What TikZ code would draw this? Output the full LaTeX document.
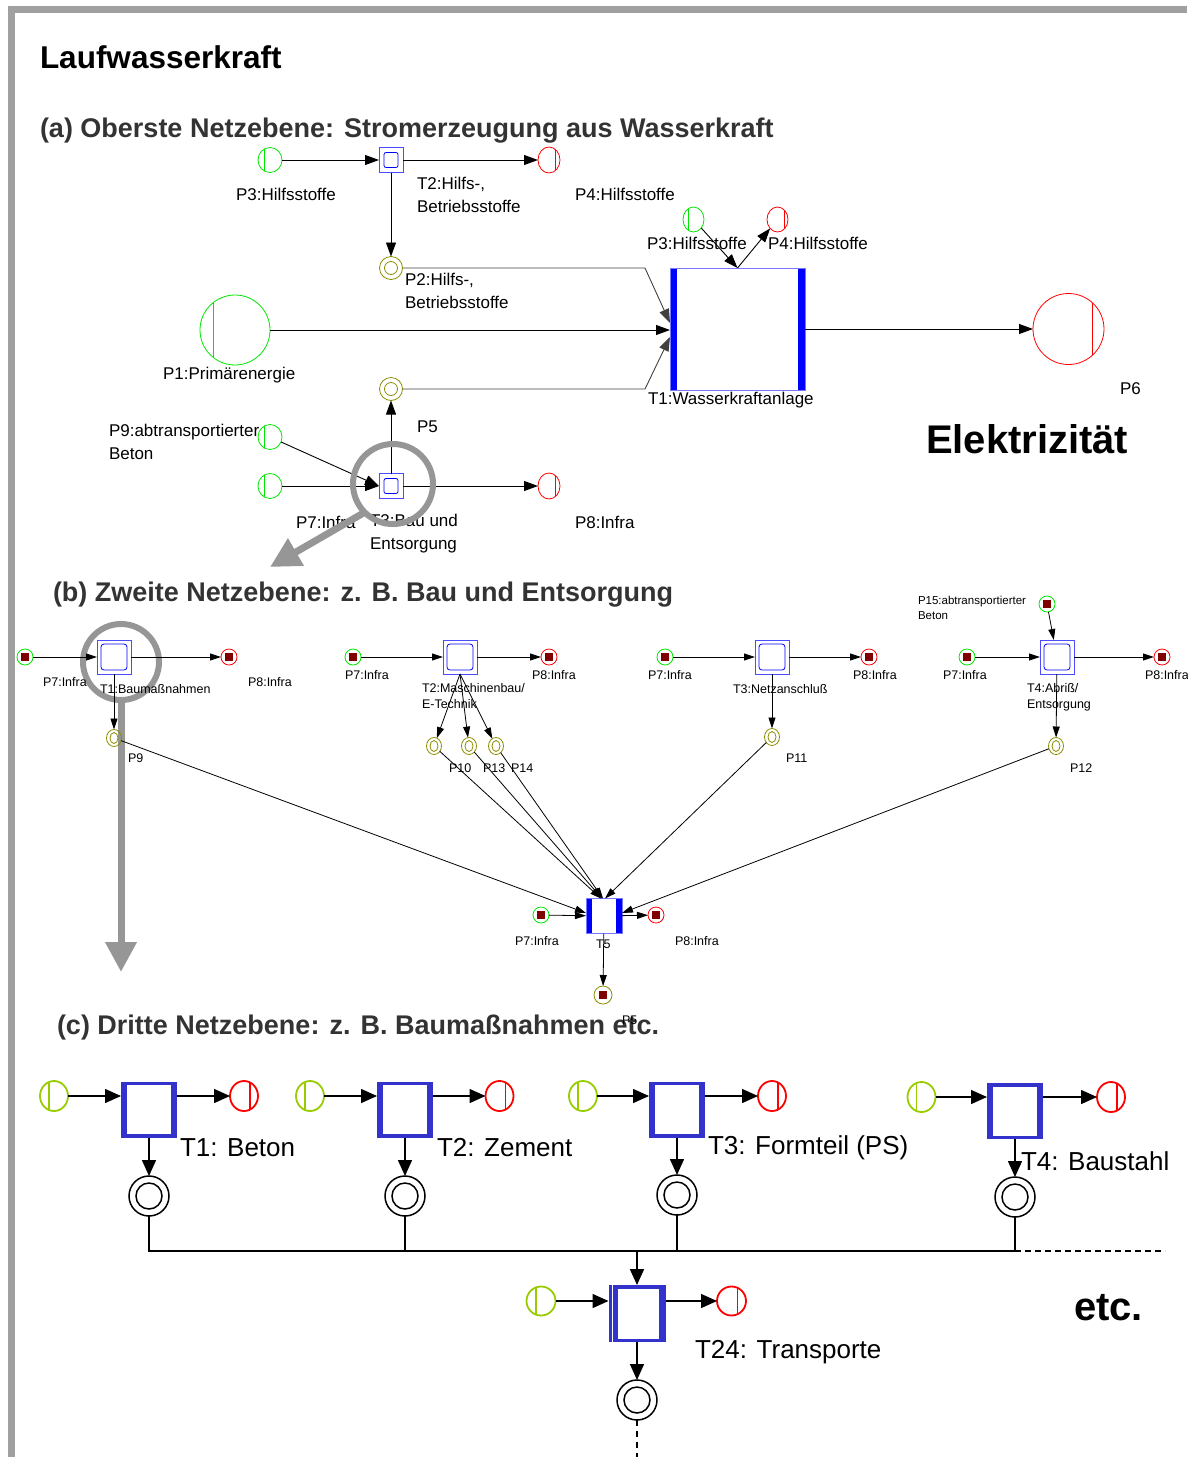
\documentclass[tikz,border=0pt]{standalone}
\usepackage{fontspec}
\setmainfont{Liberation Sans}
\usetikzlibrary{arrows.meta,shapes.geometric}
\definecolor{agreen}{RGB}{0,230,0}
\definecolor{ared}{RGB}{255,0,0}
\definecolor{tblue}{RGB}{0,0,255}
\definecolor{tbluelight}{RGB}{120,120,255}
\definecolor{olive}{RGB}{140,140,0}
\definecolor{dred}{RGB}{128,0,0}
\definecolor{cgreen}{RGB}{153,204,0}
\definecolor{cblue}{RGB}{51,51,204}
\definecolor{framegray}{RGB}{160,160,160}
\definecolor{maggray}{RGB}{150,150,150}
\definecolor{titlegray}{RGB}{51,51,51}
\begin{document}
\begin{tikzpicture}[x=1pt,y=-1pt,
  every node/.style={inner sep=0pt, outer sep=0pt, line width=0.8pt},
  lbl/.style={anchor=west, font=\fontsize{17}{23}\selectfont, align=left},
  slbl/.style={anchor=west, font=\fontsize{12.5}{16}\selectfont, align=left},
  clbl/.style={anchor=west, font=\fontsize{26}{30}\selectfont},
  heading/.style={anchor=west, text=titlegray, font=\bfseries\fontsize{27}{31}\selectfont},
  arc/.style={line width=0.9pt, -{Triangle[length=14pt,width=10pt]}},
  arcb/.style={line width=0.8pt, -{Triangle[length=11pt,width=7pt]}},
  arcc/.style={line width=1.5pt, -{Triangle[length=16pt,width=14pt]}},
  vbar/.style n args={3}{path picture={\draw[#1, line width=#3]
      ([xshift=#2]path picture bounding box.north) -- ([xshift=#2]path picture bounding box.south);}},
  srca/.style={ellipse, draw=agreen, minimum width=24, minimum height=25, vbar={agreen}{#1}{0.8pt}},
  srca/.default=-6pt,
  sinka/.style={ellipse, draw=ared, minimum width=22, minimum height=26, vbar={ared}{#1}{0.8pt}},
  sinka/.default=6pt,
  mida/.style={circle, draw=olive, minimum size=23,
    path picture={\draw[olive, line width=0.8pt] (path picture bounding box.center) circle (6.5pt);}},
  transa/.style={rectangle, draw=tblue!70, minimum width=24, minimum height=25,
    path picture={\draw[tblue, line width=0.8pt, rounded corners=2pt]
      ([shift={(5pt,-5pt)}]path picture bounding box.north west) rectangle
      ([shift={(-5pt,5pt)}]path picture bounding box.south east);}},
  bartrans/.style={rectangle, draw=tbluelight,
    path picture={\fill[tblue] (path picture bounding box.north west) rectangle
      ([xshift=#1]path picture bounding box.south west);
      \fill[tblue] (path picture bounding box.north east) rectangle
      ([xshift=-#1]path picture bounding box.south east);}},
  placeb/.style={circle, draw=#1, minimum size=16},
  tok/.style={path picture={\fill[dred] ([shift={(-4pt,-4pt)}]path picture bounding box.center)
      rectangle ([shift={(4pt,4pt)}]path picture bounding box.center);}},
  midb/.style={ellipse, draw=olive, minimum width=15, minimum height=17,
    path picture={\draw[olive, line width=0.8pt] (path picture bounding box.center) ellipse (4pt and 5.5pt);}},
  transb/.style={rectangle, draw=tblue!70, minimum size=34,
    path picture={\draw[tblue, line width=0.8pt, rounded corners=3pt]
      ([shift={(4pt,-4pt)}]path picture bounding box.north west) rectangle
      ([shift={(-4pt,4pt)}]path picture bounding box.south east);}},
  srcc/.style={ellipse, draw=cgreen, line width=1.8pt, minimum width=28, minimum height=30, vbar={cgreen}{-5pt}{1.8pt}},
  sinkc/.style={ellipse, draw=ared, line width=1.8pt, minimum width=28, minimum height=30, vbar={ared}{6pt}{1.8pt}},
  midc/.style={circle, draw=black, line width=1.5pt, minimum size=40,
    path picture={\draw[line width=1.5pt] (path picture bounding box.center) circle (13pt);}},
  transc/.style={rectangle, fill=cblue, minimum width=56, minimum height=56,
    path picture={\fill[white] ([shift={(6pt,-3.5pt)}]path picture bounding box.north west) rectangle
      ([shift={(-6pt,3.5pt)}]path picture bounding box.south east);}},
  tfused/.style={rectangle, fill=cblue, minimum width=57, minimum height=57,
    path picture={\fill[white] ([shift={(9pt,-3.5pt)}]path picture bounding box.north west) rectangle
      ([shift={(-7pt,3.5pt)}]path picture bounding box.south east);
      \draw[white, line width=1pt] ([xshift=4pt]path picture bounding box.north west) --
      ([xshift=4pt]path picture bounding box.south west);}},
  magring/.style={circle, draw=maggray, line width=6pt},
  magarrow/.style={draw=maggray, line width=7pt, -{Triangle[length=30pt,width=30pt]}},
  busline/.style={line width=1.5pt}
]
\useasboundingbox (0,0) rectangle (1187,1457);
% frame
\draw[framegray, line width=6.5pt] (11.5,1457) -- (11.5,9.5) -- (1187,9.5);

% headings
\node[anchor=west, font=\bfseries\fontsize{31.5}{35}\selectfont] (title) at (40,57) {Laufwasserkraft};
\node[heading] (heada) at (40,131) {(a) Oberste Netzebene: Stromerzeugung aus Wasserkraft};
\node[heading] (headb) at (53,595) {(b) Zweite Netzebene: z. B. Bau und Entsorgung};
\node[heading] (headc) at (57,1028) {(c) Dritte Netzebene: z. B. Baumaßnahmen etc.};

% magnifier of level (b), behind the net
\node[magring, minimum size=76] (magb) at (121,662) {};
\coordinate (magbtip) at (121,972);
\draw[magarrow] (magb.south) -- (magbtip);

% level (a)
\node[srca] (p3a) at (270,160) {};
\node[transa] (t2a) at (391,160) {};
\node[sinka] (p4a) at (549,160) {};
\node[mida] (p2a) at (391,268) {};
\node[srca=-22pt, circle, minimum size=70] (p1a) at (235,330) {};
\node[bartrans=7pt, minimum width=135, minimum height=122] (t1a) at (737.5,329) {};
\node[srca=-5pt, minimum width=21] (p3s) at (693.5,219.5) {};
\node[sinka=7pt, minimum width=21, minimum height=25] (p4s) at (777.5,219.5) {};
\node[sinka=24pt, circle, minimum size=71] (p6a) at (1068.5,329) {};
\node[mida] (p5a) at (391,389) {};
\node[transa] (t3a) at (391,486) {};
\node[srca] (p9a) at (270,437) {};
\node[srca] (p7a) at (270,486) {};
\node[sinka] (p8a) at (549,486) {};

\node[lbl] (lp3a) at (236,194) {P3:Hilfsstoffe};
\node[lbl] (lt2a) at (417,195) {T2:Hilfs-,\\Betriebsstoffe};
\node[lbl] (lp4a) at (575,194) {P4:Hilfsstoffe};
\node[lbl] (lp2a) at (405,291) {P2:Hilfs-,\\Betriebsstoffe};
\node[lbl] (lp3s) at (647,243) {P3:Hilfsstoffe};
\node[lbl] (lp4s) at (768,243) {P4:Hilfsstoffe};
\node[lbl] (lp1a) at (163,375) {P1:Primärenergie};
\node[lbl] (lt1a) at (648,400) {T1:Wasserkraftanlage};
\node[lbl] (lp6a) at (1120,389) {P6};
\node[anchor=west, font=\bfseries\fontsize{40}{44}\selectfont] (elek) at (926,439) {Elektrizität};
\node[lbl] (lp5a) at (417,427) {P5};
\node[lbl] (lp9a) at (109,442) {P9:abtransportierter\\Beton};
\node[lbl] (lp7a) at (296,522) {P7:Infra};
\node[lbl] (lt3a) at (370,534) {T3:Bau und\\Entsorgung};
\node[lbl] (lp8a) at (575,522) {P8:Infra};

\draw[arc] (p3a) -- (t2a);
\draw[arc] (t2a) -- (p4a);
\draw[arc] (t2a) -- (p2a);
\draw[arc, draw=black!75] (p2a.east) -- ([xshift=-25pt]p2a.east -| t1a.west) -- ([yshift=6pt]t1a.west);
\draw[arc] (p1a) -- (p1a -| t1a.west);
\draw[arc, draw=black!75] (p5a.east) -- ([xshift=-25pt]p5a.east -| t1a.west) -- ([yshift=-8pt]t1a.west);
\draw[arc] (p3s) -- (t1a.north);
\draw[arc] (t1a.north) -- (p4s);
\draw[arc] (t1a) -- (p6a);
\draw[arc] (t3a) -- (p5a);
\draw[arc] (p9a) -- (t3a.west);
\draw[arc] (p7a) -- (t3a);
\draw[arc] (t3a) -- (p8a);

% magnifier of level (a), over the net
\node[magring, minimum size=80] (maga) at (393,484) {};
\coordinate (magatip) at (270,567);
\draw[magarrow] (maga.225) -- (magatip);

% level (b)
\node[placeb=agreen, tok] (p7b1) at (25,657) {};
\node[transb] (t1b) at (114,657) {};
\node[placeb=ared, tok] (p8b1) at (229,657) {};
\node[midb] (p9b) at (114,738) {};
\node[placeb=agreen, tok] (p7b2) at (353,657) {};
\node[transb] (t2b) at (460,657) {};
\node[placeb=ared, tok] (p8b2) at (549,657) {};
\node[midb] (p10b) at (434,746) {};
\node[midb] (p13b) at (469,746) {};
\node[midb] (p14b) at (496,746) {};
\node[placeb=agreen, tok] (p7b3) at (665,657) {};
\node[transb] (t3b) at (772,657) {};
\node[placeb=ared, tok] (p8b3) at (869,657) {};
\node[midb] (p11b) at (772,737) {};
\node[placeb=agreen, tok] (p7b4) at (967,657) {};
\node[transb] (t4b) at (1057,657) {};
\node[placeb=ared, tok] (p8b4) at (1162,657) {};
\node[midb] (p12b) at (1056,746) {};
\node[placeb=agreen, tok] (p15b) at (1047,604) {};
\node[bartrans=6pt, minimum width=36, minimum height=35] (t5b) at (604,916) {};
\node[placeb=agreen, tok] (p7b5) at (541,915) {};
\node[placeb=ared, tok] (p8b5) at (656,915) {};
\node[placeb=olive, minimum size=18, tok] (p5b) at (603,995) {};

\node[slbl] (lp7b1) at (43,682) {P7:Infra};
\node[slbl] (lt1b) at (100,689) {T1:Baumaßnahmen};
\node[slbl] (lp8b1) at (248,682) {P8:Infra};
\node[slbl] (lp9b) at (128,758) {P9};
\node[slbl] (lp7b2) at (345,675) {P7:Infra};
\node[slbl] (lt2b) at (422,696) {T2:Maschinenbau/\\E-Technik};
\node[slbl] (lp8b2) at (532,675) {P8:Infra};
\node[slbl] (lp10b) at (449,768) {P10};
\node[slbl] (lp13b) at (483,768) {P13};
\node[slbl] (lp14b) at (511,768) {P14};
\node[slbl] (lp7b3) at (648,675) {P7:Infra};
\node[slbl] (lt3b) at (733,689) {T3:Netzanschluß};
\node[slbl] (lp8b3) at (853,675) {P8:Infra};
\node[slbl] (lp11b) at (786,758) {P11};
\node[slbl] (lp7b4) at (943,675) {P7:Infra};
\node[slbl] (lt4b) at (1027,697) {T4:Abriß/\\Entsorgung};
\node[slbl] (lp8b4) at (1145,675) {P8:Infra};
\node[slbl] (lp12b) at (1070,768) {P12};
\node[anchor=west, font=\fontsize{11.5}{15}\selectfont, align=left] (lp15b) at (918,608) {P15:abtransportierter\\Beton};
\node[slbl] (lp7b5) at (515,941) {P7:Infra};
\node[slbl] (lt5b) at (596,944) {T5};
\node[slbl] (lp8b5) at (675,941) {P8:Infra};
\node[slbl] (lp5b) at (622,1020) {P5};

\draw[arcb] (p7b1) -- (t1b);
\draw[arcb] (t1b) -- (p8b1);
\draw[arcb] (t1b) -- (p9b);
\draw[arcb] (p7b2) -- (t2b);
\draw[arcb] (t2b) -- (p8b2);
\draw[arcb] (t2b.south) -- (p10b);
\draw[arcb] (t2b.south) -- (p13b);
\draw[arcb] (t2b.south) -- (p14b);
\draw[arcb] (p7b3) -- (t3b);
\draw[arcb] (t3b) -- (p8b3);
\draw[arcb] (t3b) -- (p11b);
\draw[arcb] (p7b4) -- (t4b);
\draw[arcb] (t4b) -- (p8b4);
\draw[arcb] (t4b) -- (p12b);
\draw[arcb] (p15b) -- (t4b);
\draw[arcb] (p9b) -- ([yshift=3pt]t5b.west);
\draw[arcb] (p10b) -- ([xshift=-3pt]t5b.north);
\draw[arcb] (p13b) -- ([xshift=-2pt]t5b.north);
\draw[arcb] (p14b) -- ([xshift=-1pt]t5b.north);
\draw[arcb] (p11b) -- ([xshift=1pt]t5b.north);
\draw[arcb] (p12b) -- ([yshift=3pt]t5b.east);
\draw[arcb] (p7b5) -- (t5b);
\draw[arcb] (t5b) -- (p8b5);
\draw[arcb] (t5b) -- (p5b);

% level (c)
\node[srcc] (in1) at (54,1096) {};
\node[transc] (t1c) at (149,1109.5) {};
\node[sinkc] (out1) at (244,1096) {};
\node[midc] (d1) at (149,1196) {};
\node[srcc] (in2) at (310,1096) {};
\node[transc] (t2c) at (405,1109.5) {};
\node[sinkc] (out2) at (499.5,1096) {};
\node[midc] (d2) at (405,1196) {};
\node[srcc] (in3) at (583,1096) {};
\node[transc] (t3c) at (677,1109.5) {};
\node[sinkc] (out3) at (772,1096) {};
\node[midc] (d3) at (677,1195) {};
\node[srcc] (in4) at (921.5,1097) {};
\node[transc] (t4c) at (1015,1111) {};
\node[sinkc] (out4) at (1111,1097) {};
\node[midc] (d4) at (1015,1197) {};
\node[srcc, minimum width=29, minimum height=29] (in24) at (541,1301) {};
\node[tfused] (t24) at (637,1313.5) {};
\node[sinkc, minimum width=29, minimum height=29] (out24) at (731.5,1301) {};
\node[midc] (d24) at (637,1400) {};
\coordinate (bus) at (637,1251);
\coordinate (busend) at (1165,1251);
\coordinate (tailend) at (637,1457);

\node[clbl] (lt1c) at (180,1148) {T1: Beton};
\node[clbl] (lt2c) at (437,1148) {T2: Zement};
\node[clbl] (lt3c) at (708,1148) {T3: Formteil (PS)};
\node[clbl] (lt4c) at (1021,1161) {T4: Baustahl};
\node[clbl] (lt24) at (695,1352) {T24: Transporte};
\node[anchor=west, font=\bfseries\fontsize{40}{44}\selectfont] (etc) at (1074,1308) {etc.};

\draw[arcc] (in1) -- (in1 -| t1c.west);
\draw[arcc] (out1 -| t1c.east) -- (out1);
\draw[arcc] (t1c) -- (d1);
\draw[arcc] (in2) -- (in2 -| t2c.west);
\draw[arcc] (out2 -| t2c.east) -- (out2);
\draw[arcc] (t2c) -- (d2);
\draw[arcc] (in3) -- (in3 -| t3c.west);
\draw[arcc] (out3 -| t3c.east) -- (out3);
\draw[arcc] (t3c) -- (d3);
\draw[arcc] (in4) -- (in4 -| t4c.west);
\draw[arcc] (out4 -| t4c.east) -- (out4);
\draw[arcc] (t4c) -- (d4);
\draw[busline] (d1.south) |- (bus) -| (d4.south);
\draw[busline] (d2.south) -- (d2.south |- bus);
\draw[busline] (d3.south) -- (d3.south |- bus);
\draw[line width=1.2pt, dash pattern=on 6pt off 4pt] (d4.south |- bus) -- (busend);
\draw[arcc, line width=2pt] (bus) -- (t24);
\draw[arcc] (in24) -- (in24 -| t24.west);
\draw[arcc] (out24 -| t24.east) -- (out24);
\draw[arcc] (t24) -- (d24);
\draw[line width=1.5pt, dash pattern=on 6pt off 5pt] (d24.south) -- (tailend);
\end{tikzpicture}
\end{document}
